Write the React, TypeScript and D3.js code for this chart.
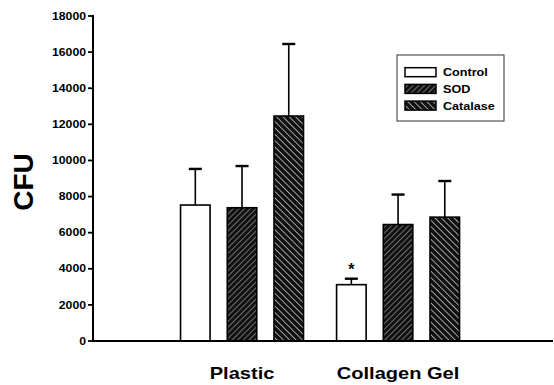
import React from "react";
import * as d3 from "d3";

const groups = ["Plastic", "Collagen Gel"];
const series = ["Control", "SOD", "Catalase"];
const means = [
  [7530, 7380, 12460],
  [3120, 6450, 6860],
];
const errTops = [
  [9530, 9690, 16450],
  [3450, 8110, 8860],
];
const yTicks = [0, 2000, 4000, 6000, 8000, 10000, 12000, 14000, 16000, 18000];
const starred = [[false, false, false], [true, false, false]];

const W = 554, H = 385;
const FONT = "Liberation Sans, Arial, sans-serif";

export default function App() {
  const y = d3.scaleLinear().domain([0, 18000]).range([341, 16]);
  const x0 = d3.scaleBand<string>().domain(groups).range([93, 553]).paddingInner(0).paddingOuter(0.474).align(0.48);
  const x1 = d3.scaleBand<string>().domain(series).range([0, x0.bandwidth()]).paddingInner(0.368).paddingOuter(0.354);
  const fills = ["#fff", "url(#sod)", "url(#cat)"];
  const sx = 1.2;

  const legendX = 397, legendY = 55;
  return (
    <svg width={W} height={H} style={{ position: "absolute", left: 0, top: 0, background: "#fff" }}>
      <defs>
        <pattern id="sod" width="4" height="4" patternUnits="userSpaceOnUse" patternTransform="rotate(45)">
          <rect width="4" height="4" fill="#111" />
          <line x1="0" y1="0" x2="0" y2="4" stroke="#bbb" strokeWidth="1.1" />
        </pattern>
        <pattern id="cat" width="4.5" height="4.5" patternUnits="userSpaceOnUse" patternTransform="rotate(-45)">
          <rect width="4.5" height="4.5" fill="#111" />
          <line x1="0" y1="0" x2="0" y2="4.5" stroke="#ddd" strokeWidth="1.4" />
        </pattern>
      </defs>
      <rect width={W} height={H} fill="#fff" />
      {/* bars */}
      {groups.map((g, gi) =>
        series.map((s, si) => {
          const bx = (x0(g) as number) + (x1(s) as number);
          const bw = x1.bandwidth();
          const cx = bx + bw / 2;
          const top = y(means[gi][si]);
          const et = y(errTops[gi][si]);
          return (
            <g key={g + s}>
              <line x1={cx} x2={cx} y1={top} y2={et} stroke="#000" strokeWidth={1.6} />
              <line x1={cx - 6.5} x2={cx + 6.5} y1={et} y2={et} stroke="#000" strokeWidth={2.4} />
              <rect x={bx} y={top} width={bw} height={y(0) - top} fill={fills[si]} stroke="#000" strokeWidth={1.6} />
              {starred[gi][si] && (
                <text x={cx} y={et - 4} textAnchor="middle" fontFamily={FONT} fontWeight="bold" fontSize={16}>*</text>
              )}
            </g>
          );
        })
      )}
      {/* axes */}
      <line x1={93} x2={93} y1={y(18000) - 1} y2={y(0) + 1} stroke="#000" strokeWidth={2} />
      <line x1={92} x2={553} y1={y(0)} y2={y(0)} stroke="#000" strokeWidth={2.2} />
      {yTicks.map((t) => (
        <g key={t}>
          <line x1={88} x2={93} y1={y(t)} y2={y(t)} stroke="#000" strokeWidth={1.8} />
          <text transform={`translate(86,${y(t) + 3.7}) scale(${sx},1)`} textAnchor="end" fontFamily={FONT} fontWeight="bold" fontSize={10.2}>{t}</text>
        </g>
      ))}
      <text transform="translate(33,182) rotate(-90)" textAnchor="middle" fontFamily={FONT} fontWeight="bold" fontSize={28}>CFU</text>
      {groups.map((g) => (
        <text key={g} transform={`translate(${(x0(g) as number) + x0.bandwidth() / 2},379) scale(1.23,1)`} textAnchor="middle" fontFamily={FONT} fontWeight="bold" fontSize={16.3}>{g}</text>
      ))}
      {/* legend */}
      <rect x={legendX} y={legendY} width={107} height={66} fill="#fff" stroke="#333" strokeWidth={1} />
      {series.map((s, si) => {
        const ry = legendY + 12.7 + si * 16.7;
        return (
          <g key={s}>
            <rect x={legendX + 8} y={ry} width={31} height={9} fill={fills[si]} stroke="#000" strokeWidth={1.5} />
            <text transform={`translate(${legendX + 46},${ry + 8.5}) scale(1.18,1)`} fontFamily={FONT} fontWeight="bold" fontSize={10.7}>{s}</text>
          </g>
        );
      })}
    </svg>
  );
}
